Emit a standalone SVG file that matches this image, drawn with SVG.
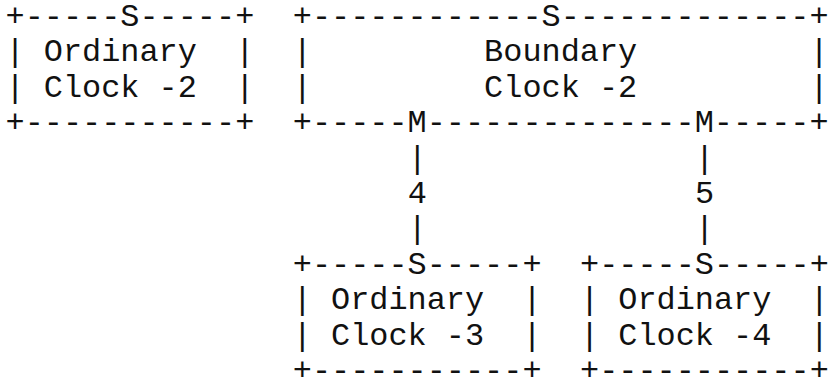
<svg xmlns="http://www.w3.org/2000/svg" width="830" height="390" viewBox="0 0 830 390" xml:space="preserve">
<style>
text { font-family: "Liberation Mono", "Courier New", monospace; font-size: 31.9px; fill: #111; white-space: pre; }
</style>
<rect width="830" height="390" fill="#fff"/>
<g id="connectors">
  <text x="407.65" y="167.6">|</text>
  <text x="407.65" y="203">4</text>
  <text x="407.65" y="238.4">|</text>
  <text x="694.9" y="167.6">|</text>
  <text x="694.9" y="203">5</text>
  <text x="694.9" y="238.4">|</text>
</g>
<g id="ordinary-clock-2">
  <text x="5.5" y="26">+-----S-----+</text>
  <text x="5.5" y="61.4">| Ordinary  |</text>
  <text x="5.5" y="96.8">| Clock -2  |</text>
  <text x="5.5" y="132.2">+-----------+</text>
</g>
<g id="boundary-clock-2">
  <text x="292.75" y="26">+------------S-------------+</text>
  <text x="292.75" y="61.4">|         Boundary         |</text>
  <text x="292.75" y="96.8">|         Clock -2         |</text>
  <text x="292.75" y="132.2">+-----M--------------M-----+</text>
</g>
<g id="ordinary-clock-3">
  <text x="292.75" y="273.8">+-----S-----+</text>
  <text x="292.75" y="309.2">| Ordinary  |</text>
  <text x="292.75" y="344.6">| Clock -3  |</text>
  <text x="292.75" y="380">+-----------+</text>
</g>
<g id="ordinary-clock-4">
  <text x="580" y="273.8">+-----S-----+</text>
  <text x="580" y="309.2">| Ordinary  |</text>
  <text x="580" y="344.6">| Clock -4  |</text>
  <text x="580" y="380">+-----------+</text>
</g>
</svg>
